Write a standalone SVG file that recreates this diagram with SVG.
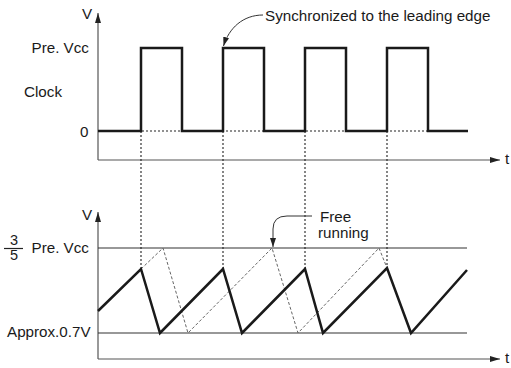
<svg xmlns="http://www.w3.org/2000/svg" width="511" height="368" viewBox="0 0 511 368">
<style>
text{font-family:"Liberation Sans",Arial,sans-serif;font-size:15.2px;fill:#1a1a1a}
.axis{stroke:#555;stroke-width:1.2;fill:none}
.thick{stroke:#1a1a1a;stroke-width:2.5;fill:none;stroke-linejoin:miter}
.ref{stroke:#333;stroke-width:1.2;fill:none}
.dot{stroke:#222;stroke-width:1.1;stroke-dasharray:2,2;fill:none}
.dash{stroke:#666;stroke-width:1;stroke-dasharray:3,2;fill:none}
.lead{stroke:#333;stroke-width:1;fill:none}
</style>
<defs>
<marker id="ah" markerWidth="10" markerHeight="6" refX="10" refY="3" orient="auto" markerUnits="userSpaceOnUse">
<path d="M0,0 L10,3 L0,6 Z" fill="#222"/>
</marker>
<marker id="lh" markerWidth="9" markerHeight="6" refX="9" refY="3" orient="auto" markerUnits="userSpaceOnUse">
<path d="M0,0 L9,3 L0,6 Z" fill="#222"/>
</marker>
</defs>
<g id="top-chart">
<line class="axis" x1="98" y1="160" x2="98" y2="13" marker-end="url(#ah)"/>
<line class="axis" x1="98" y1="160" x2="500" y2="160" marker-end="url(#ah)"/>
<text x="82" y="18.5">V</text>
<text x="505" y="164">t</text>
<text x="31.5" y="53">Pre. Vcc</text>
<text x="24" y="97">Clock</text>
<text x="80" y="137">0</text>
<line class="dot" x1="98" y1="131" x2="468" y2="131"/>
<path class="thick" d="M98,131 H141 V48 H182 V131 H223 V48 H264 V131 H305 V48 H346 V131 H387 V48 H428 V131 H468"/>
</g>
<g id="bottom-chart">
<line class="axis" x1="98" y1="359" x2="98" y2="212" marker-end="url(#ah)"/>
<line class="axis" x1="98" y1="359" x2="500" y2="359" marker-end="url(#ah)"/>
<text x="82" y="220">V</text>
<text x="505" y="363">t</text>
<text x="14" y="244.5" text-anchor="middle" style="font-size:14.5px">3</text>
<line x1="4" y1="248.5" x2="23" y2="248.5" stroke="#222" stroke-width="1.2"/>
<text x="14" y="259.5" text-anchor="middle" style="font-size:14.5px">5</text>
<text x="31.5" y="253">Pre. Vcc</text>
<text x="7" y="337">Approx.0.7V</text>
<line class="ref" x1="98" y1="248" x2="467" y2="248"/>
<line class="ref" x1="98" y1="333" x2="467" y2="333"/>
<polyline class="dash" points="141,269 163,248 188,333 272,248 298,333 379,248 387,268"/>
<polyline class="thick" points="98,311 141,269 160,333 223,269 242,333 305,269 323,333 387,268 411,333 467,270"/>
</g>
<g id="connectors">
<line class="dot" x1="141" y1="131" x2="141" y2="269"/>
<line class="dot" x1="223" y1="131" x2="223" y2="269"/>
<line class="dot" x1="305" y1="131" x2="305" y2="269"/>
<line class="dot" x1="387" y1="131" x2="387" y2="268"/>
</g>
<g id="annotation-sync">
<path class="lead" d="M263,15 C243,15 229,28 223.5,46" marker-end="url(#lh)"/>
<text x="265" y="21">Synchronized to the leading edge</text>
</g>
<g id="annotation-free">
<path class="lead" d="M312,216 H287 Q273,216 273,229 V247" marker-end="url(#lh)"/>
<text x="320" y="222">Free</text>
<text x="318" y="238">running</text>
</g>
</svg>
